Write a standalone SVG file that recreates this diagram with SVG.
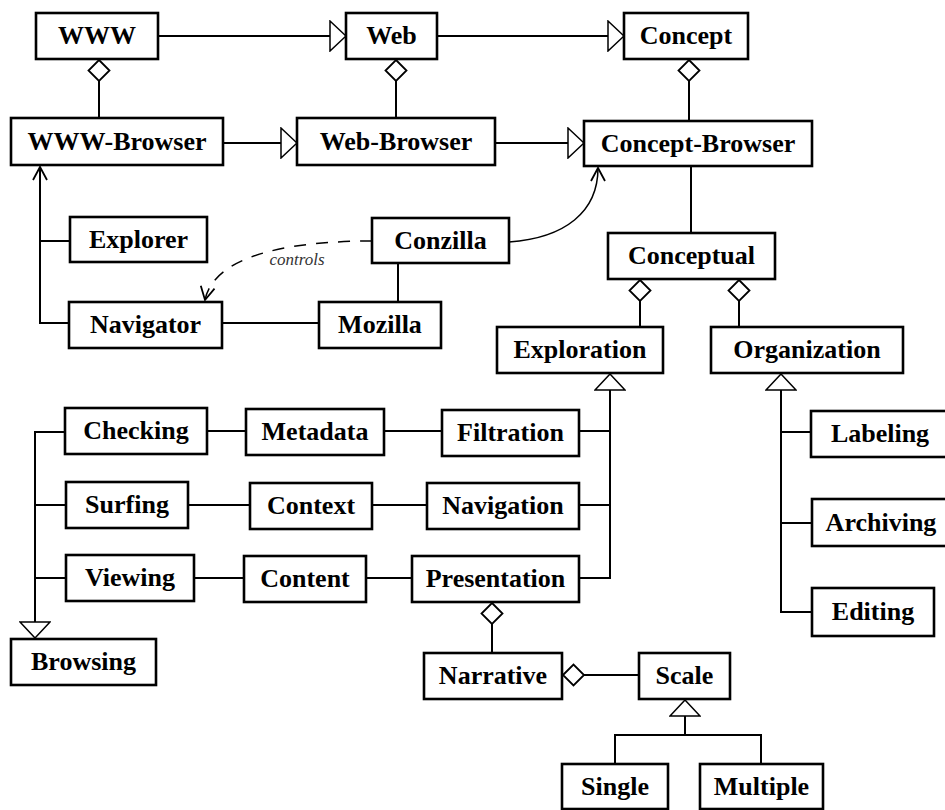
<svg xmlns="http://www.w3.org/2000/svg" width="945" height="810" viewBox="0 0 945 810">
<style>
.box{fill:#fff;stroke:#000;stroke-width:2.6}
.lbl{font-family:"Liberation Serif","Times New Roman",serif;font-weight:bold;font-size:26px;text-anchor:middle;fill:#000}
.ln{fill:none;stroke:#000;stroke-width:2}
.gen{marker-end:url(#tri)}
.agg{marker-start:url(#dia)}
.dash{fill:none;stroke:#000;stroke-width:1.5;stroke-dasharray:12 10}
.curve{fill:none;stroke:#000;stroke-width:1.5}
.cap{font-family:"Liberation Serif","Times New Roman",serif;font-style:italic;font-size:17px;text-anchor:middle;fill:#333}
</style>
<defs>
<marker id="tri" markerUnits="userSpaceOnUse" viewBox="0 0 18 32" refX="17" refY="16" markerWidth="18" markerHeight="32" orient="auto">
<path d="M1,1 L17,16 L1,31 Z" fill="#fff" stroke="#000" stroke-width="1.5"/>
</marker>
<marker id="dia" markerUnits="userSpaceOnUse" viewBox="0 0 24 24" refX="1" refY="12" markerWidth="24" markerHeight="24" orient="auto">
<path d="M1,12 L11.5,1.5 L22,12 L11.5,22.5 Z" fill="#fff" stroke="#000" stroke-width="1.8"/>
</marker>
<marker id="open" markerUnits="userSpaceOnUse" viewBox="0 0 16 18" refX="14" refY="9" markerWidth="16" markerHeight="18" orient="auto">
<path d="M1,2 L14,9 L1,16" fill="none" stroke="#000" stroke-width="1.8"/>
</marker>
</defs>

<g id="connectors">
<path class="ln gen" d="M158,36 H346"/>
<path class="ln gen" d="M437,36 H624"/>
<path class="ln gen" d="M223,143 H297"/>
<path class="ln gen" d="M495,143 H584"/>
<path class="ln agg" d="M99,60 V118"/>
<path class="ln agg" d="M396,60 V118"/>
<path class="ln agg" d="M689,60 V121"/>
<path class="ln" d="M691,166 V233"/>
<path class="ln" d="M69,323 H40 V167" marker-end="url(#open)"/>
<path class="ln" d="M40,241 H70"/>
<path class="ln" d="M222,323 H319"/>
<path class="ln" d="M398,263 V302"/>
<path class="curve" d="M509,242 C565,238 598,212 598,168" marker-end="url(#open)"/>
<path class="dash" d="M372,241 C300,241 215,252 205,300" marker-end="url(#open)"/>
<path class="ln agg" d="M640,280 V327"/>
<path class="ln agg" d="M739,280 V327"/>
<path class="ln gen" d="M579,578 H610 V374"/>
<path class="ln" d="M579,431 H610"/>
<path class="ln" d="M579,505 H610"/>
<path class="ln gen" d="M812,612 H781 V374"/>
<path class="ln" d="M781,432 H811"/>
<path class="ln" d="M781,523 H812"/>
<path class="ln" d="M207,431 H246"/>
<path class="ln" d="M384,431 H442"/>
<path class="ln" d="M188,505 H250"/>
<path class="ln" d="M372,505 H427"/>
<path class="ln" d="M194,578 H244"/>
<path class="ln" d="M366,578 H412"/>
<path class="ln gen" d="M65,432 H35 V638"/>
<path class="ln" d="M35,505 H66"/>
<path class="ln" d="M35,578 H66"/>
<path class="ln agg" d="M492,603 V653"/>
<path class="ln agg" d="M563,675 H639"/>
<path class="ln gen" d="M685,735 V700"/>
<path class="ln" d="M615,764 V735 H761 V764"/>
</g>
<text class="cap" x="297" y="265">controls</text>

<g id="WWW"><rect class="box" x="36" y="13" width="122" height="46"/><text class="lbl" x="97" y="44">WWW</text></g>
<g id="Web"><rect class="box" x="346" y="13" width="91" height="46"/><text class="lbl" x="391.5" y="44">Web</text></g>
<g id="Concept"><rect class="box" x="624" y="13" width="124" height="46"/><text class="lbl" x="686" y="44">Concept</text></g>
<g id="WWW-Browser"><rect class="box" x="11" y="118" width="212" height="47"/><text class="lbl" x="117" y="150">WWW-Browser</text></g>
<g id="Web-Browser"><rect class="box" x="297" y="118" width="198" height="47"/><text class="lbl" x="396" y="150">Web-Browser</text></g>
<g id="Concept-Browser"><rect class="box" x="584" y="121" width="228" height="45"/><text class="lbl" x="698" y="152">Concept-Browser</text></g>
<g id="Explorer"><rect class="box" x="70" y="217" width="137" height="45"/><text class="lbl" x="138.5" y="248">Explorer</text></g>
<g id="Conzilla"><rect class="box" x="372" y="218" width="137" height="45"/><text class="lbl" x="440.5" y="249">Conzilla</text></g>
<g id="Conceptual"><rect class="box" x="608" y="233" width="167" height="46"/><text class="lbl" x="691.5" y="264">Conceptual</text></g>
<g id="Navigator"><rect class="box" x="69" y="302" width="153" height="46"/><text class="lbl" x="145.5" y="333">Navigator</text></g>
<g id="Mozilla"><rect class="box" x="319" y="302" width="122" height="46"/><text class="lbl" x="380" y="333">Mozilla</text></g>
<g id="Exploration"><rect class="box" x="497" y="327" width="166" height="46"/><text class="lbl" x="580" y="358">Exploration</text></g>
<g id="Organization"><rect class="box" x="711" y="327" width="192" height="46"/><text class="lbl" x="807" y="358">Organization</text></g>
<g id="Checking"><rect class="box" x="65" y="408" width="142" height="46"/><text class="lbl" x="136" y="439">Checking</text></g>
<g id="Metadata"><rect class="box" x="246" y="409" width="138" height="46"/><text class="lbl" x="315" y="440">Metadata</text></g>
<g id="Filtration"><rect class="box" x="442" y="410" width="137" height="46"/><text class="lbl" x="510.5" y="441">Filtration</text></g>
<g id="Labeling"><rect class="box" x="811" y="411" width="139" height="46"/><text class="lbl" x="880" y="442">Labeling</text></g>
<g id="Surfing"><rect class="box" x="66" y="482" width="122" height="46"/><text class="lbl" x="127" y="513">Surfing</text></g>
<g id="Context"><rect class="box" x="250" y="483" width="122" height="46"/><text class="lbl" x="311" y="514">Context</text></g>
<g id="Navigation"><rect class="box" x="427" y="483" width="152" height="46"/><text class="lbl" x="503" y="514">Navigation</text></g>
<g id="Archiving"><rect class="box" x="812" y="499" width="139" height="47"/><text class="lbl" x="881" y="531">Archiving</text></g>
<g id="Viewing"><rect class="box" x="66" y="555" width="128" height="46"/><text class="lbl" x="130" y="586">Viewing</text></g>
<g id="Content"><rect class="box" x="244" y="556" width="122" height="46"/><text class="lbl" x="305" y="587">Content</text></g>
<g id="Presentation"><rect class="box" x="412" y="556" width="167" height="46"/><text class="lbl" x="495.5" y="587">Presentation</text></g>
<g id="Editing"><rect class="box" x="812" y="588" width="122" height="48"/><text class="lbl" x="873" y="620">Editing</text></g>
<g id="Browsing"><rect class="box" x="11" y="639" width="145" height="46"/><text class="lbl" x="83.5" y="670">Browsing</text></g>
<g id="Narrative"><rect class="box" x="424" y="653" width="138" height="46"/><text class="lbl" x="493" y="684">Narrative</text></g>
<g id="Scale"><rect class="box" x="639" y="653" width="91" height="46"/><text class="lbl" x="684.5" y="684">Scale</text></g>
<g id="Single"><rect class="box" x="562" y="764" width="106" height="45"/><text class="lbl" x="615" y="795">Single</text></g>
<g id="Multiple"><rect class="box" x="700" y="764" width="123" height="45"/><text class="lbl" x="761.5" y="795">Multiple</text></g>
</svg>
